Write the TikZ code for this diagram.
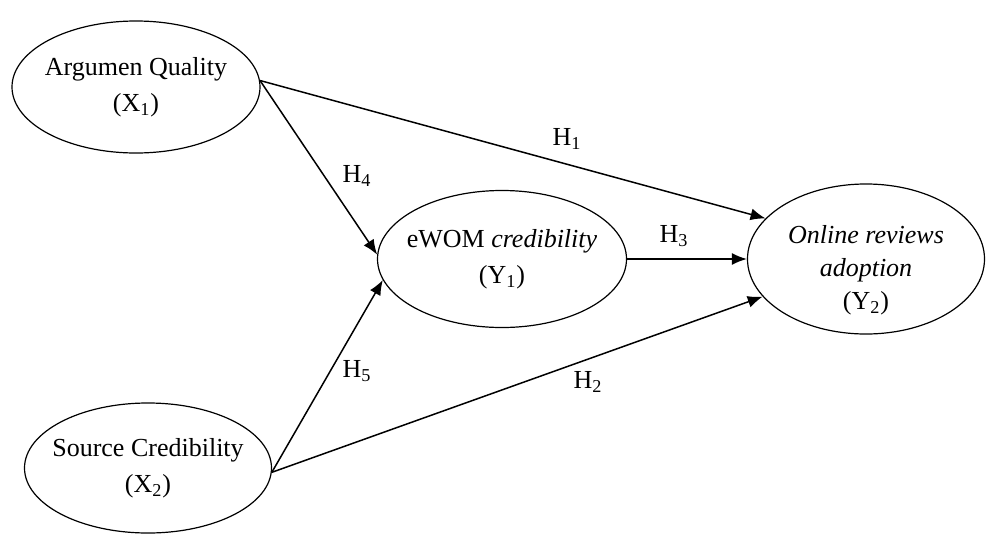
\documentclass[tikz,border=0pt]{standalone}
\usepackage{fontspec}
\setmainfont{Liberation Serif}
\usetikzlibrary{arrows.meta}
\usetikzlibrary{shapes.geometric}
\tikzset{
	construct/.style={ellipse, draw, line width=0.6pt, align=center, inner xsep=-10pt, inner ysep=-5pt, font=\fontsize{13}{18}\selectfont},
	link/.style={-{Latex[length=7.5pt,width=6pt]}, line width=0.75pt}
}
\tikzset{
	hyp/.style={inner sep=0pt, font=\fontsize{13}{15}\selectfont}
}

\begin{document}
\begin{tikzpicture}[x=0.5pt, y=-0.5pt]
\useasboundingbox (0, 0) rectangle (986, 536);
\node[construct, minimum width=124pt, minimum height=66pt] (AQ) at (136, 87) {Argumen Quality\\(X\textsubscript{1})};
\node[construct, minimum width=123.5pt, minimum height=65pt] (SC) at (148, 468) {Source Credibility\\(X\textsubscript{2})};
\node[construct, minimum width=124.5pt, minimum height=68.5pt] (EW) at (502, 259) {eWOM \textit{credibility}\\(Y\textsubscript{1})};
\node[construct, minimum width=118.5pt, minimum height=75pt, font=\fontsize{13}{16.5}\selectfont] (OR) at (866, 259) {\rule{0pt}{20pt}\textit{Online reviews}\\\textit{adoption}\\(Y\textsubscript{2})};

\node[hyp] (H1) at (567, 139) {H\textsubscript{1}};
\node[hyp] (H2) at (588, 382) {H\textsubscript{2}};
\node[hyp] (H3) at (674, 236) {H\textsubscript{3}};
\node[hyp] (H4) at (357, 176) {H\textsubscript{4}};
\node[hyp] (H5) at (357, 371) {H\textsubscript{5}};

\draw[link] (AQ.3) to (OR.158);
\draw[link] (AQ.3) to (EW.178);
\draw[link] (SC.-2) to (EW.190);
\draw[link] (SC.-2) to (OR.200);
\draw[link] (EW) to (OR);
\end{tikzpicture}
\end{document}
